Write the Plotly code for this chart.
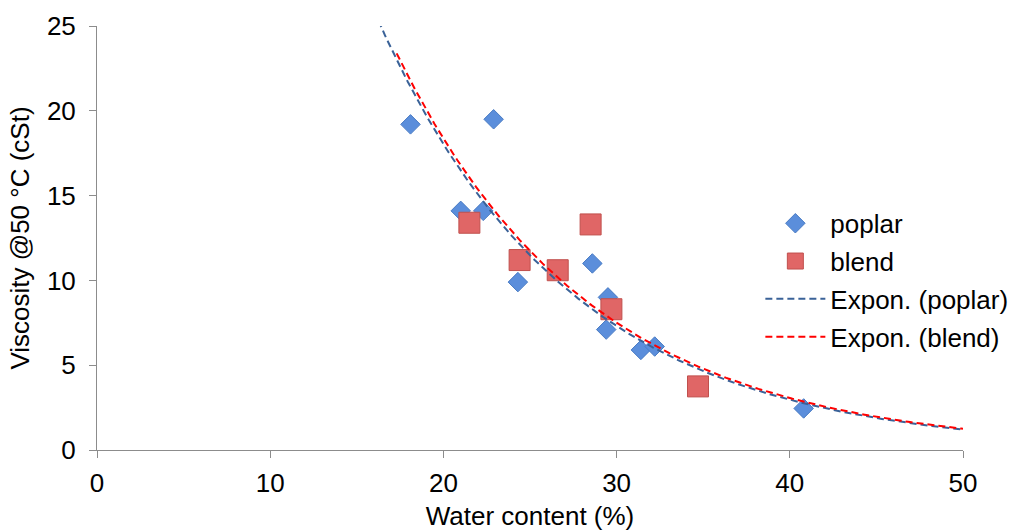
import numpy as np
import plotly.graph_objects as go

# Data
poplar_x = [18.1, 22.9, 21.0, 22.3, 24.3, 28.6, 29.5, 29.4, 31.4, 32.2, 40.8]
poplar_y = [19.2, 19.5, 14.1, 14.1, 9.9, 11.0, 9.0, 7.1, 5.9, 6.1, 2.45]
blend_x = [21.5, 24.4, 26.6, 28.5, 29.7, 34.7]
blend_y = [13.4, 11.2, 10.6, 13.3, 8.3, 3.75]

x_ticks = [0, 10, 20, 30, 40, 50]
y_ticks = [0, 5, 10, 15, 20, 25]

FONT = "Liberation Sans, Arial, sans-serif"
FS = 26


def expon_fit(x, y, x0, x1):
    b, ln_a = np.polyfit(np.array(x), np.log(np.array(y)), 1)
    xs = np.linspace(x0, x1, 300)
    return xs, np.exp(ln_a) * np.exp(b * xs)


px_fit, py_fit = expon_fit(poplar_x, poplar_y, min(poplar_x) - 4, 50)
bx_fit, by_fit = expon_fit(blend_x, blend_y, min(blend_x) - 4.2, 50)

fig = go.Figure()
fig.add_trace(go.Scatter(
    x=poplar_x, y=poplar_y, mode="markers", name="poplar",
    marker=dict(symbol="diamond", size=15, color="#5b8edb",
                line=dict(color="#4a7cc4", width=1)),
    legendgroup="a"))
fig.add_trace(go.Scatter(
    x=blend_x, y=blend_y, mode="markers", name="blend",
    marker=dict(symbol="square", size=21, color="#e06666",
                line=dict(color="#c0504d", width=1)),
    legendgroup="b"))
fig.add_trace(go.Scatter(
    x=px_fit, y=py_fit, mode="lines", name="Expon. (poplar)",
    line=dict(color="#3a6298", width=2, dash="7px,4px"), legendgroup="c"))
fig.add_trace(go.Scatter(
    x=bx_fit, y=by_fit, mode="lines", name="Expon. (blend)",
    line=dict(color="#ff0000", width=2, dash="7px,4px"), legendgroup="d"))

axis_common = dict(
    showgrid=False, zeroline=False, showline=True, linecolor="#8c8c8c",
    linewidth=1, ticks="outside", tickcolor="#8c8c8c", ticklen=7,
    tickfont=dict(family=FONT, size=FS, color="#000000"),
    automargin=False,
)

fig.update_layout(
    width=1018, height=531,
    margin=dict(l=97, r=55, t=26, b=81, autoexpand=False),
    paper_bgcolor="white", plot_bgcolor="white",
    font=dict(family=FONT, size=FS, color="#000000"),
    xaxis=dict(range=[0, 50], tickvals=x_ticks, ticklabelstandoff=3,
               title=dict(text="Water content (%)", font=dict(family=FONT, size=FS), standoff=9),
               **axis_common),
    yaxis=dict(range=[0, 25], tickvals=y_ticks, ticklabelstandoff=8,
               title=dict(text="Viscosity @50 °C (cSt)", font=dict(family=FONT, size=FS), standoff=9),
               **axis_common),
    legend=dict(x=0.766, y=0.59, xanchor="left", yanchor="top",
                font=dict(family=FONT, size=FS), tracegroupgap=1,
                itemwidth=60, bgcolor="rgba(0,0,0,0)"),
)

fig.write_html("out.html")
